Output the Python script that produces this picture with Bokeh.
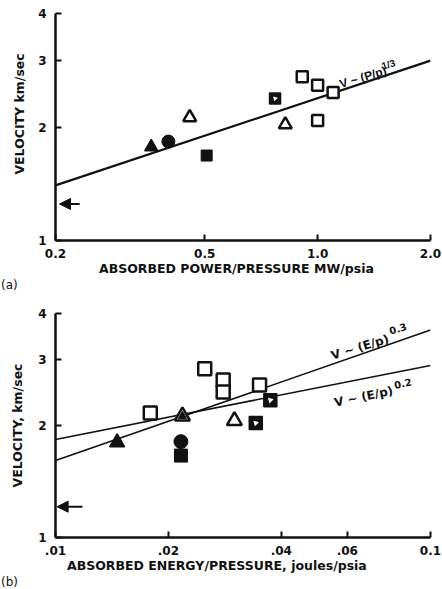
from bokeh.plotting import figure
from bokeh.models import Range1d, FixedTicker, Label, Arrow, NormalHead, Div
from bokeh.layouts import column
from bokeh.embed import file_html
from bokeh.resources import INLINE

# ---------------- Panel (a) data ----------------
a_tri_fill_x = [0.36]
a_tri_fill_y = [1.77]
a_circ_x = [0.40]
a_circ_y = [1.83]
a_tri_open_x = [0.456, 0.82]
a_tri_open_y = [2.12, 2.03]
a_sq_fill_x = [0.506]
a_sq_fill_y = [1.68]
a_sq_half_x = [0.77]
a_sq_half_y = [2.38]
a_sq_open_x = [0.91, 1.0, 1.10, 1.0]
a_sq_open_y = [2.72, 2.58, 2.47, 2.08]
a_fit_x = [0.2, 2.0]
a_fit_y = [1.40, 3.00]
a_arrow_x = [0.232, 0.205]
a_arrow_y = 1.25
a_xticks = [0.2, 0.5, 1.0, 2.0]
a_xtick_labels = ["0.2", "0.5", "1.0", "2.0"]

# ---------------- Panel (b) data ----------------
b_tri_fill_x = [0.0146]
b_tri_fill_y = [1.80]
b_circ_x = [0.0216]
b_circ_y = [1.81]
b_sq_fill_x = [0.0216]
b_sq_fill_y = [1.66]
b_tri_half_x = [0.0218]
b_tri_half_y = [2.12]
b_tri_open_x = [0.030]
b_tri_open_y = [2.06]
b_sq_open_x = [0.0179, 0.025, 0.028, 0.028, 0.035]
b_sq_open_y = [2.16, 2.84, 2.65, 2.46, 2.57]
b_sq_half_x = [0.0342, 0.0374]
b_sq_half_y = [2.03, 2.34]
b_fit_x = [0.01, 0.1]
b_fit03_y = [1.61, 3.61]
b_fit02_y = [1.835, 2.90]
b_arrow_x = [0.0118, 0.0101]
b_arrow_y = 1.21
b_xticks = [0.01, 0.02, 0.04, 0.06, 0.1]
b_xtick_labels = [".01", ".02", ".04", ".06", "0.1"]

yticks = [1, 2, 3, 4]
ytick_labels = ["1", "2", "3", "4"]

NB = "\u00a0"
a_ylabel = NB * 6 + "VELOCITY km/sec"
a_xlabel = "ABSORBED POWER/PRESSURE MW/psia" + NB * 3
b_ylabel = "VELOCITY, km/sec"
b_xlabel = "ABSORBED ENERGY/PRESSURE, joules/psia" + NB * 12

FONT = "DejaVu Sans"
INK = "#111111"


def make_fig(xr, w, h, left, right, top, bottom, xticks, xlabels,
             xlabel, ylabel, ylab_standoff):
    p = figure(x_axis_type="log", y_axis_type="log",
               x_range=Range1d(*xr), y_range=Range1d(1, 4),
               width=w, height=h,
               min_border_left=left, min_border_right=right,
               min_border_top=top, min_border_bottom=bottom,
               output_backend="svg", toolbar_location=None)
    p.outline_line_color = None
    p.xgrid.grid_line_color = None
    p.ygrid.grid_line_color = None
    p.background_fill_color = "white"
    p.border_fill_color = "white"
    p.xaxis.ticker = FixedTicker(ticks=xticks)
    p.xaxis.major_label_overrides = {t: l for t, l in zip(xticks, xlabels)}
    p.yaxis.ticker = FixedTicker(ticks=yticks)
    p.yaxis.major_label_overrides = {t: l for t, l in zip(yticks, ytick_labels)}
    for ax in (p.xaxis, p.yaxis):
        ax.axis_line_width = 2.5
        ax.axis_line_color = INK
        ax.major_tick_in = 6
        ax.major_tick_out = 0
        ax.major_tick_line_width = 2
        ax.major_tick_line_color = INK
        ax.minor_tick_line_color = None
        ax.major_label_text_font = FONT
        ax.major_label_text_font_style = "bold"
        ax.major_label_text_font_size = "12px"
        ax.major_label_text_color = INK
        ax.axis_label_text_font = FONT
        ax.axis_label_text_font_style = "bold"
        ax.axis_label_text_font_size = "12.5px"
        ax.axis_label_text_color = INK
    p.xaxis.major_label_standoff = 8
    p.yaxis.major_label_standoff = 9
    p.xaxis.axis_label = xlabel
    p.yaxis.axis_label = ylabel
    p.xaxis.axis_label_standoff = 0
    p.yaxis.axis_label_standoff = ylab_standoff
    return p


def lab(p, x, y, text, size="12px", font=FONT, angle=0):
    p.add_layout(Label(x=x, y=y, text=text, text_font=font,
                       text_font_style="bold", text_font_size=size,
                       text_color=INK, angle=angle, angle_units="deg",
                       text_align="left", text_baseline="alphabetic"))


def markers(p, sz, tri_fill, circ, tri_open, sq_fill, sq_half, sq_open,
            tri_half=None):
    sq, tri, cir = sz
    if tri_fill:
        p.scatter(tri_fill[0], tri_fill[1], marker="triangle", size=tri,
                  fill_color=INK, line_color=INK, line_width=1.5)
    if circ:
        p.scatter(circ[0], circ[1], marker="circle", size=cir,
                  fill_color=INK, line_color=INK)
    if sq_fill:
        p.scatter(sq_fill[0], sq_fill[1], marker="square", size=sq,
                  fill_color=INK, line_color=INK)
    if tri_open:
        p.scatter(tri_open[0], tri_open[1], marker="triangle", size=tri,
                  fill_color="white", line_color=INK, line_width=2.5)
    if tri_half:
        p.scatter(tri_half[0], tri_half[1], marker="triangle", size=tri,
                  fill_color="white", line_color=INK, line_width=2.5)
        p.scatter(tri_half[0], tri_half[1], marker="triangle", size=tri * 0.55,
                  fill_color=INK, line_color=INK)
    if sq_half:
        p.scatter(sq_half[0], sq_half[1], marker="square", size=sq,
                  fill_color=INK, line_color=INK, line_width=1.5)
        p.scatter(sq_half[0], sq_half[1], marker="triangle", size=sq * 0.45,
                  angle=45, angle_units="deg",
                  fill_color="white", line_color=None)
    if sq_open:
        p.scatter(sq_open[0], sq_open[1], marker="square", size=sq,
                  fill_color="white", line_color=INK, line_width=2.5)


# ---------------- Panel (a) ----------------
pa = make_fig((0.2, 2.0), 442, 278, 53, 12, 13, 38, a_xticks, a_xtick_labels,
              a_xlabel, a_ylabel, 8)
pa.line(a_fit_x, a_fit_y, line_color=INK, line_width=2.2)
markers(pa, (11, 13, 13),
        (a_tri_fill_x, a_tri_fill_y), (a_circ_x, a_circ_y),
        (a_tri_open_x, a_tri_open_y), (a_sq_fill_x, a_sq_fill_y),
        (a_sq_half_x, a_sq_half_y), (a_sq_open_x, a_sq_open_y))
pa.add_layout(Arrow(end=NormalHead(size=11, fill_color=INK, line_color=INK),
                    x_start=a_arrow_x[0], y_start=a_arrow_y,
                    x_end=a_arrow_x[1], y_end=a_arrow_y,
                    line_width=2, line_color=INK))
lab(pa, 1.147, 2.594, "V ~ (P/p)", size="12px", font="Liberation Sans",
    angle=17)
lab(pa, 1.482, 2.894, "1/3", size="10px", font="Liberation Sans", angle=17)

# ---------------- Panel (b) ----------------
pb = make_fig((0.01, 0.1), 442, 284, 55, 5, 22, 37, b_xticks, b_xtick_labels,
              b_xlabel, b_ylabel, 10)
pb.line(b_fit_x, b_fit03_y, line_color=INK, line_width=1.6)
pb.line(b_fit_x, b_fit02_y, line_color=INK, line_width=1.6)
markers(pb, (13, 15, 14),
        (b_tri_fill_x, b_tri_fill_y), (b_circ_x, b_circ_y),
        (b_tri_open_x, b_tri_open_y), (b_sq_fill_x, b_sq_fill_y),
        (b_sq_half_x, b_sq_half_y), (b_sq_open_x, b_sq_open_y),
        tri_half=(b_tri_half_x, b_tri_half_y))
pb.add_layout(Arrow(end=NormalHead(size=11, fill_color=INK, line_color=INK),
                    x_start=b_arrow_x[0], y_start=b_arrow_y,
                    x_end=b_arrow_x[1], y_end=b_arrow_y,
                    line_width=2, line_color=INK))
lab(pb, 0.0544, 3.076, "V ~ (E/p)", size="12px", angle=17)
lab(pb, 0.0777, 3.59, "0.3", size="10px", angle=17)
lab(pb, 0.0554, 2.30, "V ~ (E/p)", size="12px", angle=12)
lab(pb, 0.080, 2.57, "0.2", size="10px", angle=12)

div_style = {"font-family": "DejaVu Sans", "font-size": "12px",
             "line-height": "14px", "color": INK, "padding": "0 0 0 1px",
             "margin": "0"}
da = Div(text="(a)", width=442, height=13, margin=(0, 0, 0, 0),
         styles=div_style)
db = Div(text="(b)", width=442, height=14, margin=(0, 0, 0, 0),
         styles=div_style)

layout = column(pa, da, pb, db, spacing=0)
open("out.html", "w").write(file_html(layout, INLINE))
